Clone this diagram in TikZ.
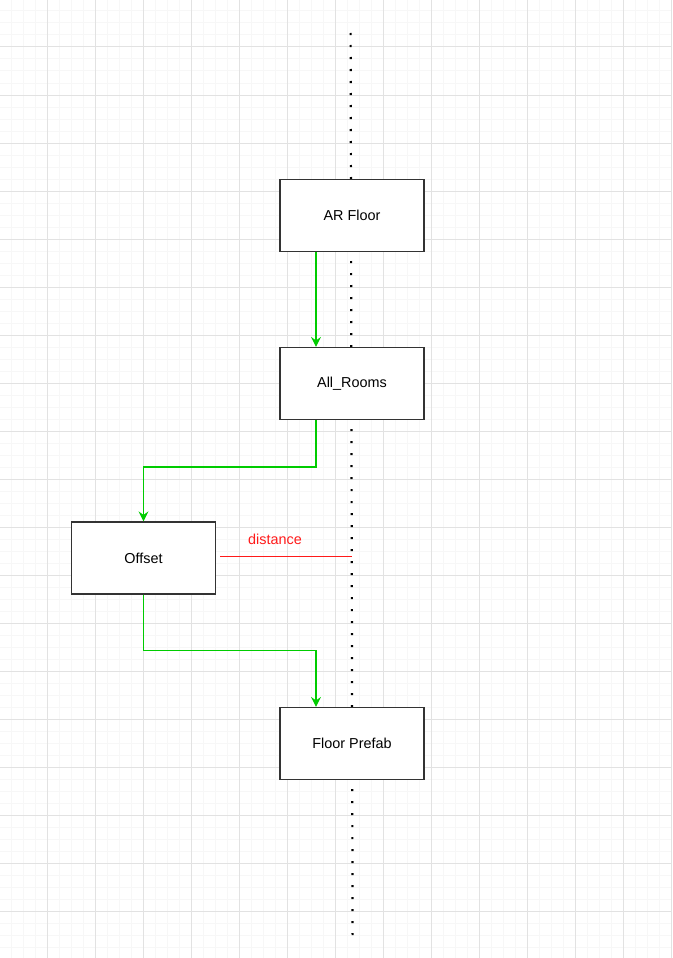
\documentclass[tikz,border=0pt]{standalone}
\usepackage{fontspec}
\setmainfont{Liberation Sans}
\usetikzlibrary{arrows.meta}
\definecolor{gridminor}{HTML}{F7F7F7}
\definecolor{gridmajor}{HTML}{E2E2E2}
\definecolor{flowgreen}{HTML}{00CC00}
\definecolor{measred}{HTML}{FF1A1A}
\definecolor{boxline}{HTML}{333333}
\tikzset{
  blockbox/.style={draw=boxline, line width=1.2pt, fill=white, minimum width=144pt,
    minimum height=72pt, inner sep=0pt, font=\fontsize{14.4}{17}\selectfont},
  flow/.style={draw=flowgreen, line width=1.2pt,
    -{Stealth[length=10pt, width=10pt, inset=3.5pt]}},
  guide/.style={line width=2.2pt, dash pattern=on 2.2pt off 9.8pt},
  measure/.style={draw=measred, line width=1pt},
}
\begin{document}
\begin{tikzpicture}[x=1pt, y=-1pt]
  \useasboundingbox (0,0) rectangle (672,958);
  \fill[white] (0,0) rectangle (672,958);
  % background grid: fine lines every 12, heavier every 48
  \foreach \g in {-1,11,...,959}{
    \draw[gridminor, line width=1pt] (\g,0) -- (\g,958);
    \draw[gridminor, line width=1pt] (0,\g) -- (672,\g);
  }
  \foreach \g in {47,95,...,959}{
    \draw[gridmajor, line width=1pt] (\g,0) -- (\g,958);
    \draw[gridmajor, line width=1pt] (0,\g) -- (672,\g);
  }
  % vertical reference axis
  \coordinate (axtop) at (350.6,33);
  \coordinate (axbot) at (352.6,936);
  \draw[guide] (axtop) -- (axbot);

  % blocks
  \node[blockbox] (ar) at (352,215.5) {AR Floor};
  \node[blockbox] (rooms) at (352,383.5) {All\_Rooms};
  \node[blockbox] (offset) at (143.5,558) {Offset};
  \node[blockbox] (prefab) at (352,743.5) {Floor Prefab};

  % flow connectors
  \draw[flow] ([xshift=-36pt]ar.south) -- ([xshift=-36pt]rooms.north);
  \draw[flow] ([xshift=-36pt]rooms.south) |- (143.5,467) -- (offset.north);
  \draw[flow] (offset.south) |- (316,650.5) -- ([xshift=-36pt]prefab.north);

  % distance marker
  \coordinate (mstart) at (220,556);
  \coordinate (mend) at (352.3,556);
  \draw[measure] (mstart) -- (mend);
  \node[text=measred, font=\fontsize{14.4}{17}\selectfont] (dist) at (275,539) {distance};
\end{tikzpicture}
\end{document}
